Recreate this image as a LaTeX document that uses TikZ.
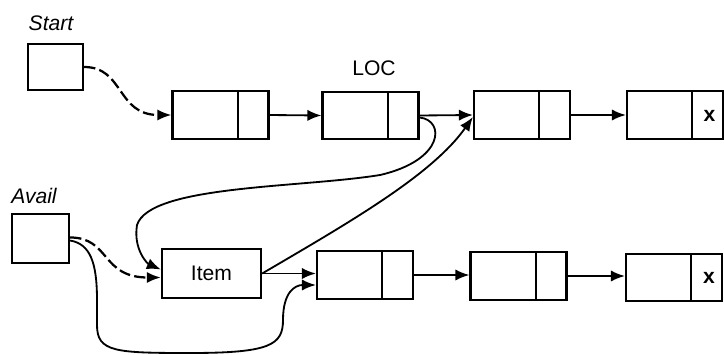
\documentclass[tikz,border=0pt]{standalone}
\usepackage{fontspec}
\setmainfont{Liberation Sans}
\usetikzlibrary{arrows.meta}
\usetikzlibrary{calc}
\tikzset{cell/.style = {draw, line width=1.5pt, minimum width=2.4cm,
                        minimum height=1.18cm, inner sep=0pt,
                        path picture={\draw[line width=1.5pt]
                          ($(path picture bounding box.south west)!0.68!(path picture bounding box.south east)$)
                          -- ($(path picture bounding box.north west)!0.68!(path picture bounding box.north east)$);}}}
\tikzset{ptr/.style = {draw, line width=1.5pt, inner sep=0pt}}
\tikzset{arr/.style = {line width=1.3pt, -{Latex[length=10pt,width=8pt]}}}
\tikzset{dasharr/.style = {arr, line width=1.6pt, dash pattern=on 8pt off 3pt}}
\tikzset{txt/.style = {font=\fontsize{15}{17}\selectfont, inner sep=0pt}}

\begin{document}
\begin{tikzpicture}[x=0.025cm, y=-0.025cm]
  \useasboundingbox (0,0) rectangle (724,355);
  % top list
  \node[txt] (start) at (51,23) {\itshape Start};
  \node[ptr, minimum width=1.38cm, minimum height=1.15cm] (sp) at (55.5,67) {};
  \node[cell] (n1) at (220.5,115) {};
  \node[cell] (n2) at (370.5,115.5) {};
  \node[cell] (n3) at (522,115) {};
  \node[cell] (n4) at (675,115) {};
  \node[txt] (loc) at (374,68) {LOC};
  \node[txt] (x1) at (709.5,116) {\bfseries x};
  % bottom list
  \node[txt] (avail) at (34,196) {\itshape Avail};
  \node[ptr, minimum width=1.43cm, minimum height=1.23cm] (ap) at (40.5,238.5) {};
  \node[ptr, minimum width=2.48cm, minimum height=1.23cm, txt] (item) at (211.5,273.5) {Item};
  \node[cell] (a) at (365,275) {};
  \node[cell] (b) at (518.5,276) {};
  \node[cell] (c) at (674,277.5) {};
  \node[txt] (x2) at (709,278) {\bfseries x};

  \draw[dasharr] (sp.east) .. controls +(40,0) and +(-55,0) .. (n1.west);
  \draw[arr] (n1.east) -- (n2.west);
  \draw[arr] (n2.east) -- (n3.west);
  \draw[arr] (n3.east) -- (n4.west);
  \draw[arr] ($(n2.east)+(0,2)$) .. controls (445,120) and (445,160) .. (380,175)
             .. controls (300,188) and (150,185) .. (137,225)
             .. controls (133,250) and (148,264) .. ($(item.west)+(0,-4)$);
  \draw[arr] (item.east) .. controls (350,222) and (432,175) .. ($(n3.west)+(0,2)$);
  \draw[arr] (item.east) -- (item.east -| a.west);
  \draw[dasharr] ($(ap.east)+(0,-1)$) .. controls +(40,0) and +(-60,0) .. ($(item.west)+(0,4)$);
  \draw[arr] ($(ap.east)+(0,2)$) .. controls (90,244) and (97,262) .. (97,300)
             -- (97,325) .. controls (97,352) and (115,353) .. (190,353)
             .. controls (270,353) and (283,345) .. (283,320)
             .. controls (283,292) and (295,285) .. ($(a.west)+(0,10)$);
  \draw[arr] (a.east) -- (a.east -| b.west);
  \draw[arr] (b.east) -- (b.east -| c.west);
\end{tikzpicture}
\end{document}
